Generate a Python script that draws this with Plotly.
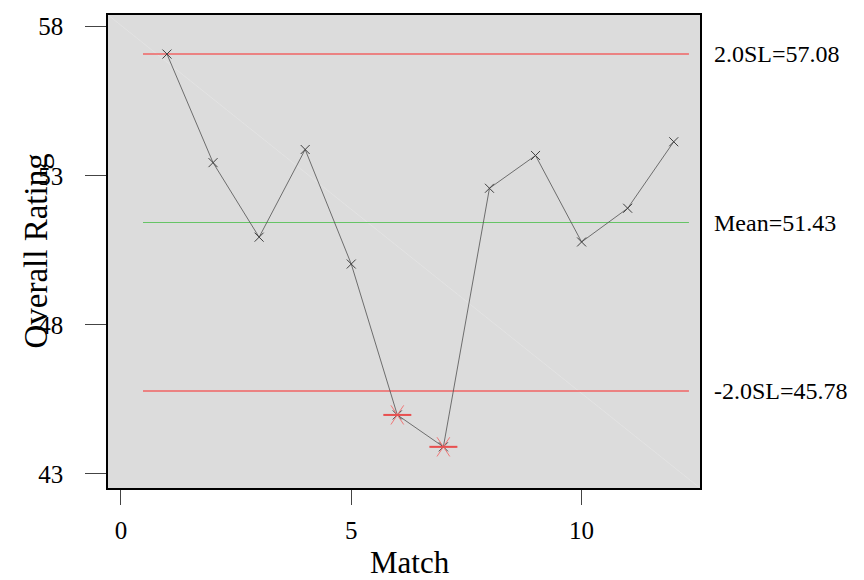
import plotly.graph_objects as go

# ---- data ----
match = [1, 2, 3, 4, 5, 6, 7, 8, 9, 10, 11, 12]
rating = [57.08, 53.44, 50.94, 53.88, 50.04, 44.98, 43.91, 52.58, 53.68, 50.78, 51.91, 54.14]
mean_val = 51.43
ucl = 57.08
lcl = 45.78
x_ticks = [0, 5, 10]
y_ticks = [43, 48, 53, 58]

FONT = "Liberation Serif, Times New Roman, serif"

out_x = [m for m, r in zip(match, rating) if r < lcl or r > ucl + 0.001]
out_y = [r for m, r in zip(match, rating) if r < lcl or r > ucl + 0.001]

x_lo, x_hi = 0.48, 12.33
RED = "#F06464"
STAR = "#F07878"

fig = go.Figure()

# control limit lines
fig.add_trace(go.Scatter(x=[x_lo, x_hi], y=[ucl, ucl], mode="lines",
                         line=dict(color=RED, width=1.6), hoverinfo="skip"))
fig.add_trace(go.Scatter(x=[x_lo, x_hi], y=[lcl, lcl], mode="lines",
                         line=dict(color=RED, width=1.6), hoverinfo="skip"))
fig.add_trace(go.Scatter(x=[x_lo, x_hi], y=[mean_val, mean_val], mode="lines",
                         line=dict(color="#66C466", width=1.1), hoverinfo="skip"))

# data series
fig.add_trace(go.Scatter(x=match, y=rating, mode="lines+markers",
                         line=dict(color="#505050", width=0.8),
                         marker=dict(symbol="x-thin-open", size=9, color="#404040",
                                     line=dict(color="#404040", width=1))))

# out-of-control markers
for sym, size, col, w in [("y-left-open", 16, STAR, 1), ("y-right-open", 16, STAR, 1),
                          ("line-ew-open", 20, "#E85050", 2)]:
    fig.add_trace(go.Scatter(x=out_x, y=out_y, mode="markers",
                             marker=dict(symbol=sym, size=size, color=col,
                                         line=dict(color=col, width=w))))

# faint diagonal across the panel
fig.add_shape(type="line", xref="x domain", yref="y domain", x0=0, y0=1, x1=1, y1=0,
              line=dict(color="#E8E8E8", width=0.6), layer="below")

ann = []
for val, label in [(ucl, "2.0SL=%.2f" % ucl), (mean_val, "Mean=%.2f" % mean_val),
                   (lcl, "-2.0SL=%.2f" % lcl)]:
    ann.append(dict(text=label, xref="paper", yref="y", x=1, y=val, xshift=12,
                    xanchor="left", yanchor="middle", showarrow=False,
                    font=dict(family=FONT, size=24, color="black")))
ann.append(dict(text="Overall Rating", xref="paper", yref="paper", x=0, y=0.5,
                xshift=-73, textangle=-90, xanchor="center", yanchor="middle",
                showarrow=False, font=dict(family=FONT, size=33, color="black")))
ann.append(dict(text="Match", xref="paper", yref="paper", x=0.5, y=0,
                xshift=6, yshift=-74, xanchor="center", yanchor="middle",
                showarrow=False, font=dict(family=FONT, size=31, color="black")))

# page body has an 8px margin, so the figure is sized/offset to compensate
fig.update_layout(
    width=856, height=572,
    margin=dict(l=100, r=164, t=5, b=92),
    paper_bgcolor="white", plot_bgcolor="#DCDCDC",
    showlegend=False,
    font=dict(family=FONT, size=25, color="black"),
    annotations=ann,
)
fig.update_xaxes(range=[-0.28, 12.57], tickvals=x_ticks, showgrid=False, zeroline=False,
                 showline=True, linecolor="black", linewidth=1.5, mirror=True,
                 ticks="outside", ticklen=15, tickcolor="#444444", tickwidth=1,
                 ticklabelstandoff=4)
fig.update_yaxes(range=[42.53, 58.39], tickvals=y_ticks, showgrid=False, zeroline=False,
                 showline=True, linecolor="black", linewidth=1.5, mirror=True,
                 ticks="outside", ticklen=21, tickcolor="#444444", tickwidth=1,
                 ticklabelstandoff=17)

fig.write_html("out.html")
